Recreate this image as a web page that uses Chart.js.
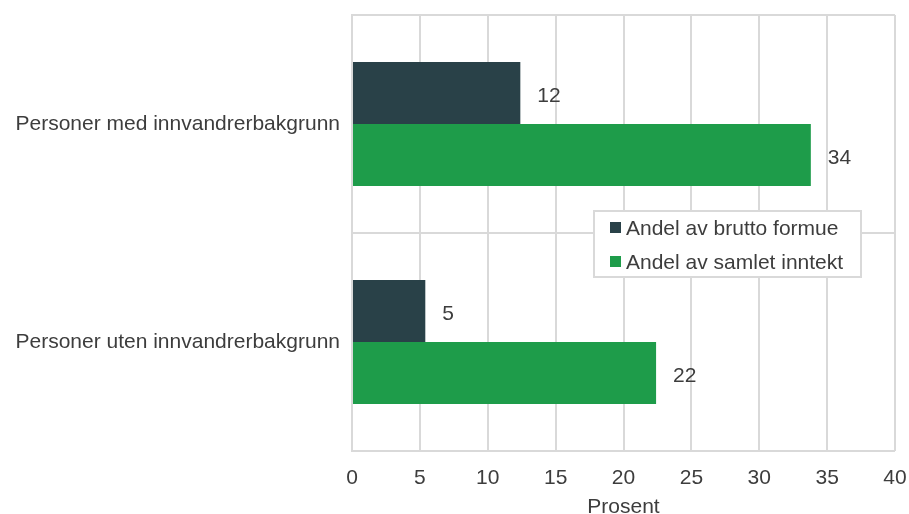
<!DOCTYPE html>
<html>
<head>
<meta charset="utf-8">
<script src="https://cdn.jsdelivr.net/npm/chart.js@4/dist/chart.umd.min.js"></script>
<style>
  html, body { margin: 0; padding: 0; background: #fff; }
  #wrap { position: relative; width: 909px; height: 514px; }
</style>
</head>
<body>
<div id="wrap"><canvas id="chart"></canvas></div>
<script>
// カテゴリと系列データ
const categories = ['Personer med innvandrerbakgrunn', 'Personer uten innvandrerbakgrunn'];
const seriesNames = ['Andel av brutto formue', 'Andel av samlet inntekt'];
const bruttoFormue = [12.4, 5.4];
const samletInntekt = [33.8, 22.4];
const seriesColors = ['#294148', '#1e9c4a'];

const textColor = '#3d3d3d';
const gridColor = '#d9d9d9';
const fontFamily = '"Liberation Sans", Arial, sans-serif';
const fontSize = 21;

// 棒の右側に数値を描く
const valueLabels = {
    id: 'valueLabels',
    afterDatasetsDraw(chart) {
        const ctx = chart.ctx;
        ctx.save();
        ctx.font = fontSize + 'px ' + fontFamily;
        ctx.fillStyle = textColor;
        ctx.textAlign = 'left';
        ctx.textBaseline = 'middle';
        chart.data.datasets.forEach((ds, i) => {
            chart.getDatasetMeta(i).data.forEach((bar, j) => {
                ctx.fillText(Math.round(ds.data[j]), bar.x + 17, bar.y + 3);
            });
        });
        ctx.restore();
    }
};

// プロット内の凡例ボックス
const boxLegend = {
    id: 'boxLegend',
    afterDraw(chart) {
        const ctx = chart.ctx;
        const x = 594, y = 211, w = 267, h = 66;
        ctx.save();
        ctx.fillStyle = '#fff';
        ctx.fillRect(x, y, w, h);
        ctx.strokeStyle = gridColor;
        ctx.lineWidth = 2;
        ctx.strokeRect(x, y, w, h);
        ctx.font = fontSize + 'px ' + fontFamily;
        ctx.textBaseline = 'middle';
        chart.data.datasets.forEach((ds, i) => {
            const cy = y + 17 + i * 34;
            ctx.fillStyle = ds.backgroundColor;
            ctx.fillRect(x + 16, cy - 6, 11, 11);
            ctx.fillStyle = textColor;
            ctx.fillText(ds.label, x + 32, cy + 1);
        });
        ctx.restore();
    }
};

new Chart(document.getElementById('chart'), {
    type: 'bar',
    data: {
        labels: categories,
        datasets: [
            { label: seriesNames[0], data: bruttoFormue, backgroundColor: seriesColors[0] },
            { label: seriesNames[1], data: samletInntekt, backgroundColor: seriesColors[1] }
        ]
    },
    options: {
        indexAxis: 'y',
        responsive: true,
        maintainAspectRatio: false,
        animation: false,
        categoryPercentage: 0.569,
        barPercentage: 1.0,
        layout: { padding: { top: 15, right: 14, left: 0, bottom: 0 } },
        plugins: {
            legend: { display: false },
            tooltip: { enabled: false }
        },
        scales: {
            x: {
                min: 0,
                max: 40,
                ticks: { stepSize: 5, color: textColor, font: { family: fontFamily, size: fontSize }, padding: 15 },
                grid: { color: gridColor, lineWidth: 2, drawTicks: false },
                border: { display: false },
                title: { display: true, text: 'Prosent', color: textColor, font: { family: fontFamily, size: fontSize }, padding: { top: 0, bottom: -6 } },
                afterFit(axis) {
                    axis.height = 63;
                    axis.paddingLeft = 0;
                    axis.paddingRight = 0;
                }
            },
            y: {
                ticks: { color: textColor, font: { family: fontFamily, size: fontSize }, padding: 12 },
                grid: { color: gridColor, lineWidth: 2, drawTicks: false, offset: true },
                border: { color: gridColor, width: 2 },
                afterFit(axis) {
                    axis.width = 352;
                    axis.paddingTop = 0;
                    axis.paddingBottom = 0;
                }
            }
        }
    },
    plugins: [valueLabels, boxLegend]
});
</script>
</body>
</html>
